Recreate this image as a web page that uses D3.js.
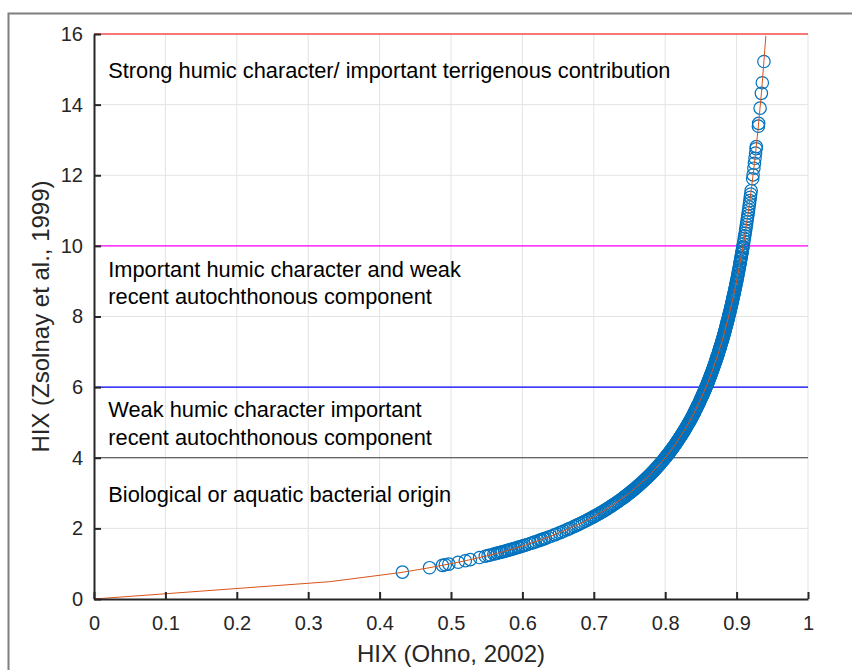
<!DOCTYPE html>
<html>
<head>
<meta charset="utf-8">
<script src="https://cdn.jsdelivr.net/npm/d3@7"></script>
<style>
  html, body { margin: 0; padding: 0; background: #fff; }
  svg { display: block; font-family: "Liberation Sans", Arial, sans-serif; }
</style>
</head>
<body>
<svg id="chart" width="852" height="670"></svg>
<script>
// ---------------- DATA ----------------
// Scatter: HIX (Ohno, 2002) vs HIX (Zsolnay et al., 1999)
const ohno = [
  0.432, 0.470, 0.488, 0.492, 0.497, 0.510, 0.520, 0.527, 0.540, 0.548, 0.552, 0.555, 0.560, 0.562, 0.565,
  0.568, 0.570, 0.572, 0.575, 0.578, 0.580, 0.583, 0.585, 0.588, 0.590, 0.593, 0.595, 0.598, 0.600, 0.603,
  0.607, 0.611, 0.615, 0.618, 0.622, 0.625, 0.627, 0.630, 0.632, 0.636, 0.640, 0.645, 0.648, 0.652, 0.655,
  0.658, 0.662, 0.665, 0.668, 0.672, 0.675, 0.678, 0.681, 0.684, 0.687, 0.690, 0.693, 0.695, 0.698, 0.700,
  0.704, 0.708, 0.712, 0.716, 0.720, 0.724, 0.728, 0.732, 0.736, 0.740,
  0.7425, 0.7450, 0.7475, 0.7500, 0.7525, 0.7550, 0.7575, 0.7600, 0.7625, 0.7650, 0.7675, 0.7700, 0.7725,
  0.7750, 0.7775, 0.7800, 0.7825, 0.7850, 0.7875, 0.7900, 0.7925, 0.7950, 0.7975, 0.8000,
  0.8015, 0.8030, 0.8045, 0.8060, 0.8075, 0.8090, 0.8105, 0.8120, 0.8135, 0.8150, 0.8165, 0.8180, 0.8195,
  0.8210, 0.8225, 0.8240, 0.8255, 0.8270, 0.8285, 0.8300, 0.8315, 0.8330, 0.8345, 0.8360, 0.8375, 0.8390,
  0.8405, 0.8420, 0.8435, 0.8450, 0.8465, 0.8480, 0.8495,
  0.851, 0.852, 0.853, 0.854, 0.855, 0.856, 0.857, 0.858, 0.859, 0.860, 0.861, 0.862, 0.863, 0.864, 0.865,
  0.866, 0.867, 0.868, 0.869, 0.870, 0.871, 0.872, 0.873, 0.874, 0.875, 0.876, 0.877, 0.878, 0.879, 0.880,
  0.8808, 0.8816, 0.8824, 0.8832, 0.8840, 0.8848, 0.8856, 0.8864, 0.8872, 0.8880, 0.8888, 0.8896, 0.8904,
  0.8912, 0.8920, 0.8928, 0.8936, 0.8944, 0.8952, 0.8960, 0.8968, 0.8976, 0.8984, 0.8992, 0.9000,
  0.9006, 0.9012, 0.9018, 0.9024, 0.9030, 0.9036, 0.9042, 0.9048, 0.9054, 0.9060, 0.9066, 0.9072, 0.9078,
  0.9084, 0.9090, 0.9096, 0.9102, 0.9108, 0.9114, 0.9120, 0.9126, 0.9132, 0.9138, 0.9144, 0.9150, 0.9156,
  0.9162, 0.9168, 0.9174, 0.9180, 0.9186, 0.9192, 0.9198, 0.9204,
  0.9225, 0.9231, 0.9242, 0.9250, 0.9258, 0.9266, 0.9273, 0.9276, 0.9305, 0.9309, 0.9329, 0.9347, 0.9360, 0.9383
];
const zsolnay = [
  0.761, 0.887, 0.953, 0.969, 0.988, 1.041, 1.083, 1.114, 1.174, 1.212, 1.232, 1.247, 1.273, 1.283, 1.299,
  1.315, 1.326, 1.336, 1.353, 1.370, 1.381, 1.398, 1.410, 1.427, 1.439, 1.457, 1.469, 1.488, 1.500, 1.519,
  1.545, 1.571, 1.597, 1.618, 1.646, 1.667, 1.681, 1.703, 1.717, 1.747, 1.778, 1.817, 1.841, 1.874, 1.899,
  1.924, 1.959, 1.985, 2.012, 2.049, 2.077, 2.106, 2.135, 2.165, 2.195, 2.226, 2.257, 2.279, 2.311, 2.333,
  2.378, 2.425, 2.472, 2.521, 2.571, 2.623, 2.676, 2.731, 2.788, 2.846,
  2.883, 2.922, 2.960, 3.000, 3.040, 3.082, 3.124, 3.167, 3.211, 3.255, 3.301, 3.348, 3.396,
  3.444, 3.494, 3.545, 3.598, 3.651, 3.706, 3.762, 3.819, 3.878, 3.938, 4.000,
  4.038, 4.076, 4.115, 4.155, 4.195, 4.236, 4.277, 4.319, 4.362, 4.405, 4.450, 4.495, 4.540,
  4.587, 4.634, 4.682, 4.731, 4.780, 4.831, 4.882, 4.935, 4.988, 5.042, 5.098, 5.154, 5.211,
  5.270, 5.329, 5.390, 5.452, 5.515, 5.579, 5.645,
  5.711, 5.757, 5.803, 5.849, 5.897, 5.944, 5.993, 6.042, 6.092, 6.143, 6.194, 6.246, 6.299, 6.353, 6.407,
  6.463, 6.519, 6.576, 6.634, 6.692, 6.752, 6.813, 6.874, 6.937, 7.000, 7.065, 7.130, 7.197, 7.264, 7.333,
  7.389, 7.446, 7.503, 7.562, 7.621, 7.681, 7.741, 7.803, 7.865, 7.929, 7.993, 8.058, 8.124,
  8.191, 8.259, 8.328, 8.398, 8.470, 8.542, 8.615, 8.690, 8.766, 8.843, 8.921, 9.000,
  9.060, 9.121, 9.183, 9.246, 9.309, 9.373, 9.438, 9.504, 9.571, 9.638, 9.707, 9.776, 9.846,
  9.917, 9.989, 10.062, 10.136, 10.211, 10.287, 10.364, 10.442, 10.521, 10.601, 10.682, 10.765, 10.848,
  10.933, 11.019, 11.107, 11.195, 11.285, 11.376, 11.469, 11.563,
  11.90, 12.01, 12.20, 12.34, 12.48, 12.63, 12.75, 12.81, 13.39, 13.47, 13.90, 14.32, 14.62, 15.22
];
// Additional samples in the dense part of the cloud
const ohno2 = [
  0.702, 0.706, 0.710, 0.714, 0.718, 0.722, 0.726, 0.730, 0.734, 0.738,
  0.74125, 0.74375, 0.74625, 0.74875, 0.75125, 0.75375, 0.75625, 0.75875, 0.76125, 0.76375, 0.76625, 0.76875,
  0.77125, 0.77375, 0.77625, 0.77875, 0.78125, 0.78375, 0.78625, 0.78875, 0.79125, 0.79375, 0.79625, 0.79875,
  0.80075, 0.80225, 0.80375, 0.80525, 0.80675, 0.80825, 0.80975, 0.81125, 0.81275, 0.81425, 0.81575, 0.81725,
  0.81875, 0.82025, 0.82175, 0.82325, 0.82475, 0.82625, 0.82775, 0.82925, 0.83075, 0.83225, 0.83375, 0.83525,
  0.83675, 0.83825, 0.83975, 0.84125, 0.84275, 0.84425, 0.84575, 0.84725, 0.84875,
  0.8502, 0.8515, 0.8525, 0.8535, 0.8545, 0.8555, 0.8565, 0.8575, 0.8585, 0.8595, 0.8605, 0.8615, 0.8625,
  0.8635, 0.8645, 0.8655, 0.8665, 0.8675, 0.8685, 0.8695, 0.8705, 0.8715, 0.8725, 0.8735, 0.8745, 0.8755,
  0.8765, 0.8775, 0.8785, 0.8795,
  0.8804, 0.8812, 0.8820, 0.8828, 0.8836, 0.8844, 0.8852, 0.8860, 0.8868, 0.8876, 0.8884, 0.8892, 0.8900,
  0.8908, 0.8916, 0.8924, 0.8932, 0.8940, 0.8948, 0.8956, 0.8964, 0.8972, 0.8980, 0.8988, 0.8996,
  0.9003, 0.9015, 0.9027, 0.9039, 0.9051, 0.9063, 0.9075, 0.9087
];
const zsolnay2 = [
  2.356, 2.401, 2.448, 2.497, 2.546, 2.597, 2.650, 2.704, 2.759, 2.817,
  2.865, 2.902, 2.941, 2.980, 3.020, 3.061, 3.103, 3.145, 3.189, 3.233, 3.278, 3.324,
  3.372, 3.420, 3.469, 3.519, 3.571, 3.624, 3.678, 3.734, 3.790, 3.848, 3.908, 3.969,
  4.019, 4.057, 4.095, 4.135, 4.175, 4.215, 4.256, 4.298, 4.340, 4.383, 4.427, 4.472,
  4.517, 4.563, 4.610, 4.658, 4.706, 4.755, 4.805, 4.856, 4.908, 4.961, 5.015, 5.070,
  5.126, 5.182, 5.240, 5.299, 5.359, 5.421, 5.483, 5.547, 5.612,
  5.678, 5.734, 5.780, 5.826, 5.873, 5.920, 5.968, 6.017, 6.067, 6.117, 6.168, 6.220, 6.272,
  6.326, 6.380, 6.435, 6.491, 6.547, 6.605, 6.663, 6.722, 6.782, 6.843, 6.905, 6.968, 7.032,
  7.097, 7.163, 7.230, 7.298,
  7.361, 7.417, 7.474, 7.532, 7.591, 7.651, 7.711, 7.772, 7.834, 7.897, 7.961, 8.025, 8.091,
  8.157, 8.225, 8.293, 8.363, 8.434, 8.506, 8.578, 8.652, 8.728, 8.804, 8.882, 8.960,
  9.030, 9.152, 9.277, 9.406, 9.538, 9.672, 9.811, 9.953
];

// Fitted conversion line (orange)
const fitX = [0, 0.33, 0.43, 0.465, 0.50, 0.525, 0.55, 0.575, 0.60, 0.625, 0.65, 0.675, 0.70, 0.725, 0.75,
  0.775, 0.80, 0.81, 0.82, 0.83, 0.84, 0.85, 0.86, 0.865, 0.87, 0.875, 0.88, 0.885, 0.89, 0.895, 0.90,
  0.905, 0.91, 0.915, 0.92, 0.925, 0.93, 0.935, 0.941];
const fitY = [0, 0.49, 0.75, 0.869, 1.0, 1.105, 1.22, 1.35, 1.5, 1.67, 1.86, 2.08, 2.33, 2.64, 3.0,
  3.44, 4.0, 4.26, 4.56, 4.88, 5.25, 5.67, 6.14, 6.41, 6.69, 7.0, 7.33, 7.70, 8.09, 8.52, 9.0,
  9.53, 10.11, 10.76, 11.5, 12.33, 13.29, 14.38, 15.95];

// Threshold lines
const thresholds = [16, 10, 6, 4];
const thresholdColors = ["#ff0000", "#ff00ff", "#0000ff", "#3a3a3a"];
// Region label lines and their baseline heights (in y-axis units)
const labelLines = [
  "Strong humic character/ important terrigenous contribution",
  "Important humic character and weak",
  "recent autochthonous component",
  "Weak humic character important",
  "recent autochthonous component",
  "Biological or aquatic bacterial origin"
];
const labelBaselines = [14.75, 9.12, 8.35, 5.15, 4.36, 2.75];

const xTicks = [0, 0.1, 0.2, 0.3, 0.4, 0.5, 0.6, 0.7, 0.8, 0.9, 1];
const yTicks = [0, 2, 4, 6, 8, 10, 12, 14, 16];
const xTitle = "HIX (Ohno, 2002)";
const yTitle = "HIX (Zsolnay et al., 1999)";

// ---------------- DRAW ----------------
const svg = d3.select("#chart");
const L = 94, R = 808, T = 34, B = 599;
const x = d3.scaleLinear().domain([0, 1]).range([L, R]);
const y = d3.scaleLinear().domain([0, 16]).range([B, T]);

// figure border
svg.append("rect").attr("x", 8.5).attr("y", 13.5).attr("width", 900).attr("height", 700)
  .attr("fill", "none").attr("stroke", "#7f7f7f").attr("stroke-width", 2);

// grid
const grid = svg.append("g").attr("stroke", "#e3e3e3").attr("stroke-width", 1);
grid.selectAll("line.gx").data(xTicks.slice(1)).join("line")
  .attr("x1", d => x(d)).attr("x2", d => x(d)).attr("y1", T).attr("y2", B);
grid.selectAll("line.gy").data(yTicks.slice(1)).join("line")
  .attr("x1", L).attr("x2", R).attr("y1", d => y(d)).attr("y2", d => y(d));

// threshold lines
svg.append("g").selectAll("line").data(thresholds).join("line")
  .attr("x1", L).attr("x2", R)
  .attr("y1", d => y(d)).attr("y2", d => y(d))
  .attr("stroke", (d, i) => thresholdColors[i]).attr("stroke-width", 1.2);

// region labels
svg.append("g").attr("font-size", 21.8).attr("fill", "#000")
  .selectAll("text").data(labelLines).join("text")
  .attr("x", x(0.02)).attr("y", (d, i) => y(labelBaselines[i])).text(d => d);

// scatter
const pts = ohno.map((v, i) => [v, zsolnay[i]]).concat(ohno2.map((v, i) => [v, zsolnay2[i]]));
svg.append("g").selectAll("circle").data(pts).join("circle")
  .attr("cx", d => x(d[0])).attr("cy", d => y(d[1])).attr("r", 6.2)
  .attr("fill", "none").attr("stroke", "#0072BD").attr("stroke-width", 1.2);

// fitted line
const fit = fitX.map((v, i) => [v, fitY[i]]);
svg.append("path").datum(fit)
  .attr("d", d3.line().x(d => x(d[0])).y(d => y(d[1])))
  .attr("fill", "none").attr("stroke", "#D95319").attr("stroke-width", 1);

// axes
const xAxis = d3.axisBottom(x).tickValues(xTicks).tickFormat(d3.format("")).tickSizeInner(-7).tickSizeOuter(0).tickPadding(17);
const yAxis = d3.axisLeft(y).tickValues(yTicks).tickFormat(d3.format("")).tickSizeInner(-7).tickSizeOuter(0).tickPadding(11);
const gx = svg.append("g").attr("transform", `translate(0,${B})`).call(xAxis);
const gy = svg.append("g").attr("transform", `translate(${L},0)`).call(yAxis);
[gx, gy].forEach(g => {
  g.select(".domain").attr("stroke", "#262626").attr("stroke-width", 2);
  g.selectAll(".tick line").attr("stroke", "#262626").attr("stroke-width", 2);
  g.selectAll(".tick text").attr("fill", "#262626").attr("font-size", 20)
    .attr("font-family", "'Liberation Sans', Arial, sans-serif");
});

// axis titles
svg.append("text").attr("x", (L + R) / 2).attr("y", 662).attr("text-anchor", "middle")
  .attr("font-size", 24).attr("fill", "#262626").text(xTitle);
svg.append("text").attr("transform", `translate(48.5,${(T + B) / 2}) rotate(-90)`)
  .attr("text-anchor", "middle").attr("font-size", 24).attr("fill", "#262626").text(yTitle);
</script>
</body>
</html>
